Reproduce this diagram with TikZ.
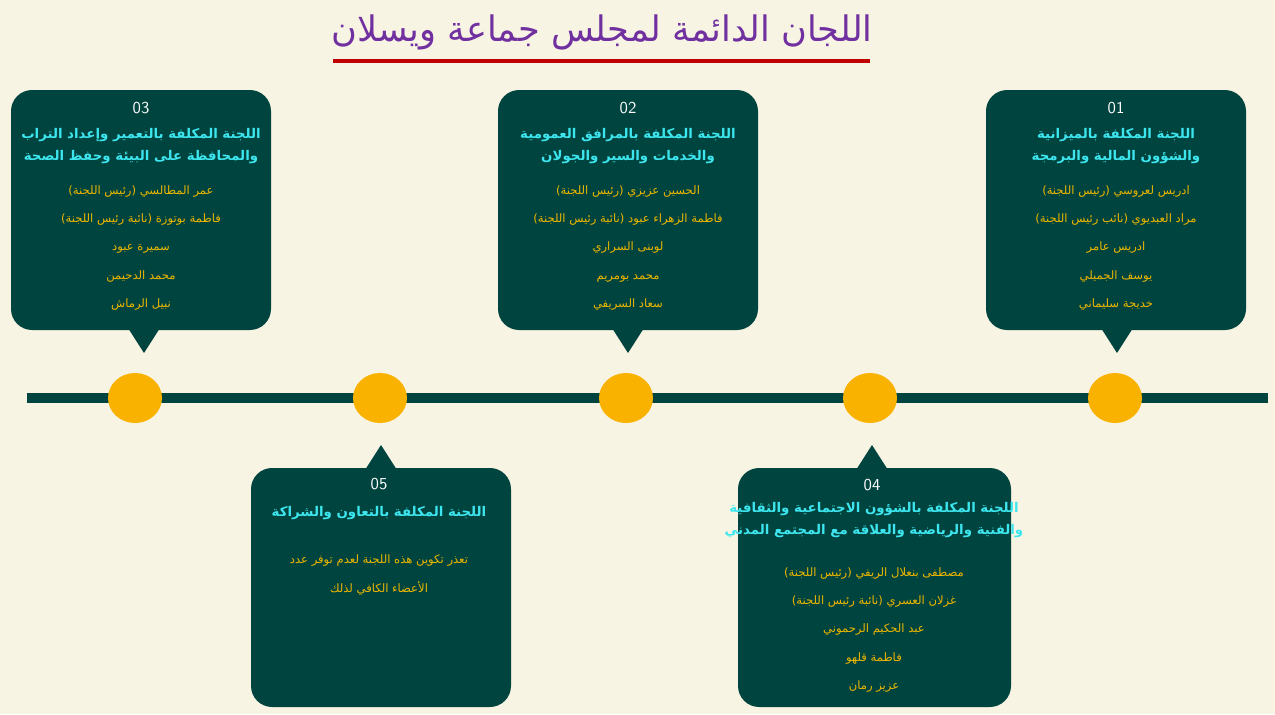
\documentclass[tikz,border=0pt]{standalone}
\usepackage{fontspec}
\usepackage{tikz}
\usetikzlibrary{positioning}
\TeXXeTstate=1
\newfontfamily\arabicfont[Script=Arabic]{DejaVu Sans}
\newcommand{\ar}[1]{{\arabicfont\beginR #1\endR}}
\definecolor{bgcol}{HTML}{F8F4E3}
\definecolor{boxcol}{HTML}{00443F}
\definecolor{dotcol}{HTML}{F9B200}
\definecolor{headcol}{HTML}{3DE6EE}
\definecolor{namecol}{HTML}{EDB600}
\definecolor{titlecol}{HTML}{7030A0}
\definecolor{linecol}{HTML}{C00000}

\begin{document}
\begin{tikzpicture}[
    x=0.02cm, y=-0.02cm,
    panel/.style={fill=boxcol, rounded corners=12pt},
    dot/.style={ellipse, fill=dotcol, minimum width=54\pgflinewidth, minimum height=50\pgflinewidth, inner sep=0pt},
    num/.style={text=white, font=\sffamily\fontsize{9.5}{11}\selectfont},
    head/.style={text=headcol, align=center, font=\bfseries\fontsize{7.6}{12.5}\selectfont},
    names/.style={text=namecol, align=center, font=\fontsize{6.6}{16.2}\selectfont}
]

% background
\fill[bgcol] (0,0) rectangle (1275,714);
\useasboundingbox (0,0) rectangle (1275,714);

% title
\node[text=titlecol, font=\fontsize{20}{24}\selectfont] (title) at (602,32) {\ar{اللجان الدائمة لمجلس جماعة ويسلان}};
\draw[linecol, line width=2pt] (333,61) -- (870,61);

% timeline
\draw[boxcol, line width=5.5pt] (27,398) -- (1268,398);
\foreach \x/\n in {135/3, 380/5, 626/2, 870/4, 1115/1}
  \fill[dotcol] (\x,398) ellipse [x radius=27, y radius=25];

% upper panels
\foreach \l/\p in {986/1117, 498/628, 11/144} {
  \fill[panel] (\l,90) rectangle ++(260,240);
  \fill[boxcol] (\p-16,328) -- (\p+16,328) -- (\p,353) -- cycle;
}
% lower panels
\fill[panel] (251,468) rectangle (511,707);
\fill[boxcol] (365,470) -- (397,470) -- (381,445) -- cycle;
\fill[panel] (738,468) rectangle (1011,707);
\fill[boxcol] (856,470) -- (888,470) -- (872,445) -- cycle;

% panel 01
\node[num] (n1) at (1116,108) {01};
\node[head] (h1) at (1116,146) {\ar{اللجنة المكلفة بالميزانية}\\\ar{والشؤون المالية والبرمجة}};
\node[names] (m1) at (1116,248) {\ar{ادريس لعروسي (رئيس اللجنة)}\\\ar{مراد العبديوي (نائب رئيس اللجنة)}\\\ar{ادريس عامر}\\\ar{يوسف الجميلي}\\\ar{خديجة سليماني}};

% panel 02
\node[num] (n2) at (628,108) {02};
\node[head] (h2) at (628,146) {\ar{اللجنة المكلفة بالمرافق العمومية}\\\ar{والخدمات والسير والجولان}};
\node[names] (m2) at (628,248) {\ar{الحسين عزيزي (رئيس اللجنة)}\\\ar{فاطمة الزهراء عبود (نائبة رئيس اللجنة)}\\\ar{لوبنى السراري}\\\ar{محمد بومريم}\\\ar{سعاد السريفي}};

% panel 03
\node[num] (n3) at (141,108) {03};
\node[head] (h3) at (141,146) {\ar{اللجنة المكلفة بالتعمير وإعداد التراب}\\\ar{والمحافظة على البيئة وحفظ الصحة}};
\node[names] (m3) at (141,248) {\ar{عمر المطالسي (رئيس اللجنة)}\\\ar{فاطمة بوتوزة (نائبة رئيس اللجنة)}\\\ar{سميرة عبود}\\\ar{محمد الدحيمن}\\\ar{نبيل الرماش}};

% panel 04
\node[num] (n4) at (872,485) {04};
\node[head] (h4) at (874,520) {\ar{اللجنة المكلفة بالشؤون الاجتماعية والثقافية}\\\ar{والفنية والرياضية والعلاقة مع المجتمع المدني}};
\node[names] (m4) at (874,630) {\ar{مصطفى بنعلال الريفي (رئيس اللجنة)}\\\ar{غزلان العسري (نائبة رئيس اللجنة)}\\\ar{عبد الحكيم الرحموني}\\\ar{فاطمة قلهو}\\\ar{عزيز رمان}};

% panel 05
\node[num] (n5) at (379,484) {05};
\node[head] (h5) at (379,513) {\ar{اللجنة المكلفة بالتعاون والشراكة}};
\node[names] (m5) at (379,575) {\ar{تعذر تكوين هذه اللجنة لعدم توفر عدد}\\\ar{الأعضاء الكافي لذلك}};

\end{tikzpicture}
\end{document}
